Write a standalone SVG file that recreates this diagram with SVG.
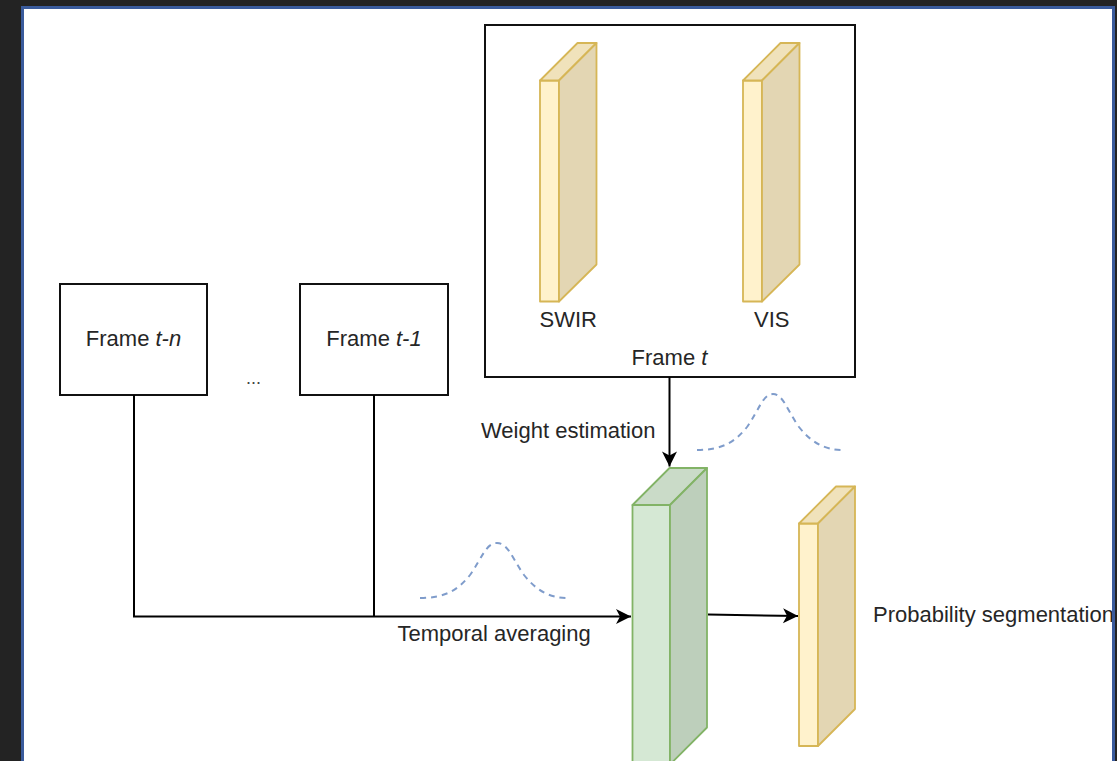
<svg xmlns="http://www.w3.org/2000/svg" width="1117" height="761" viewBox="0 0 1117 761">
  <defs>
    <style>
      .lbl { font-family: "Liberation Sans", Arial, sans-serif; font-size: 22px; fill: #262626; }
      .box { fill: #ffffff; stroke: #111111; stroke-width: 2; }
      .conn { fill: none; stroke: #000000; stroke-width: 2; }
      .gauss { fill: none; stroke: #7f9ccb; stroke-width: 2; stroke-dasharray: 6 5; }
      .yf { fill: #fff2cc; stroke: #d6b656; stroke-width: 1.8; stroke-linejoin: round; }
      .yt { fill: #f0e2bb; stroke: #d6b656; stroke-width: 1.8; stroke-linejoin: round; }
      .ys { fill: #e3d6b3; stroke: #d6b656; stroke-width: 1.8; stroke-linejoin: round; }
      .gf { fill: #d5e8d4; stroke: #82b366; stroke-width: 1.8; stroke-linejoin: round; }
      .gt { fill: #cadbc8; stroke: #82b366; stroke-width: 1.8; stroke-linejoin: round; }
      .gs { fill: #bdcfbb; stroke: #82b366; stroke-width: 1.8; stroke-linejoin: round; }
    </style>
    <marker id="arrow" markerUnits="userSpaceOnUse" markerWidth="18" markerHeight="18" viewBox="-16 -9 18 18" refX="0" refY="0" orient="auto">
      <path d="M0,0 L-15,-7.5 L-11,0 L-15,7.5 Z" fill="#000000"/>
    </marker>
    <clipPath id="page">
      <rect x="24" y="9" width="1088" height="760"/>
    </clipPath>
  </defs>

  <rect x="0" y="0" width="1117" height="761" fill="#232323"/>
  <rect x="22.5" y="7.5" width="1091" height="800" fill="#ffffff" stroke="#3a5b9c" stroke-width="3"/>

  <g clip-path="url(#page)">
    <g id="frame-t-n">
      <rect class="box" x="60" y="284" width="147" height="111"/>
      <text class="lbl" x="133.5" y="346" text-anchor="middle">Frame <tspan font-style="italic">t-n</tspan></text>
    </g>

    <g id="ellipsis">
      <text x="253.5" y="384" text-anchor="middle" font-family="Liberation Sans, Arial, sans-serif" font-size="18" fill="#444444">...</text>
    </g>

    <g id="frame-t-1">
      <rect class="box" x="300" y="284" width="148" height="111"/>
      <text class="lbl" x="374" y="346" text-anchor="middle">Frame <tspan font-style="italic">t-1</tspan></text>
    </g>

    <g id="frame-t">
      <rect class="box" x="485" y="25" width="370" height="352"/>
      <text class="lbl" x="669.5" y="365" text-anchor="middle">Frame <tspan font-style="italic">t</tspan></text>
    </g>

    <g id="swir">
      <rect class="yf" x="540" y="80.5" width="19" height="221"/>
      <polygon class="yt" points="540,80.5 577.5,43 596.5,43 559,80.5"/>
      <polygon class="ys" points="559,80.5 596.5,43 596.5,264.5 559,301.5"/>
      <text class="lbl" x="568.3" y="327" text-anchor="middle">SWIR</text>
    </g>

    <g id="vis">
      <rect class="yf" x="743" y="80.5" width="19" height="221"/>
      <polygon class="yt" points="743,80.5 780.5,43 799.5,43 762,80.5"/>
      <polygon class="ys" points="762,80.5 799.5,43 799.5,264.5 762,301.5"/>
      <text class="lbl" x="771.7" y="327" text-anchor="middle">VIS</text>
    </g>

    <g id="fusion-block">
      <rect class="gf" x="632.5" y="505" width="37.5" height="262"/>
      <polygon class="gt" points="632.5,505 669.5,468 707,468 670,505"/>
      <polygon class="gs" points="670,505 707,468 707,727.5 670,764.5"/>
    </g>

    <g id="probability-segmentation">
      <rect class="yf" x="799" y="523.5" width="19" height="222.5"/>
      <polygon class="yt" points="799,523.5 836,486.5 855,486.5 818,523.5"/>
      <polygon class="ys" points="818,523.5 855,486.5 855,709 818,746"/>
      <text class="lbl" x="873" y="622">Probability segmentation</text>
    </g>

    <g id="weight-curve">
      <path class="gauss" d="M697,450 C722,450 735,442 747,427 C759,410 763,394 773,394 C783,394 787,410 799,427 C811,442 824,450 843,450"/>
    </g>

    <g id="temporal-curve">
      <path class="gauss" d="M420,598 C445,598 458,590 470,575 C482,558 486,543 497,543 C508,543 512,558 524,575 C536,590 549,598 567,598"/>
    </g>

    <g id="connectors">
      <path class="conn" d="M134,395 V616.5 H631" marker-end="url(#arrow)"/>
      <path class="conn" d="M374,395 V616.5"/>
      <path class="conn" d="M669.5,377 V466.5" marker-end="url(#arrow)"/>
      <path class="conn" d="M708,614.5 L798,616" marker-end="url(#arrow)"/>
    </g>

    <g id="edge-labels">
      <text class="lbl" x="481" y="438.3">Weight estimation</text>
      <text class="lbl" x="397.5" y="641">Temporal averaging</text>
    </g>
  </g>
</svg>
